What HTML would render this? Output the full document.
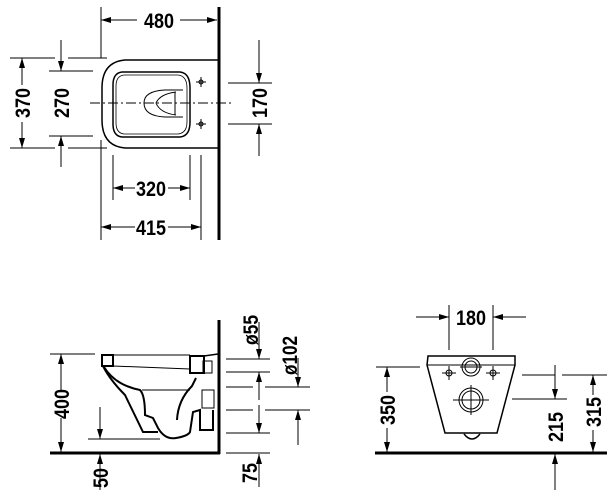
<!DOCTYPE html>
<html><head><style>
html,body{margin:0;padding:0;background:#fff;}
svg{display:block;}
text{font-family:"Liberation Sans",sans-serif;font-weight:bold;font-size:21px;fill:#000;}
</style></head><body>
<svg width="615" height="501" viewBox="0 0 615 501" xmlns="http://www.w3.org/2000/svg">
<defs>
<marker id="a" viewBox="0 0 10 6" refX="10" refY="3" markerWidth="10" markerHeight="6" orient="auto" markerUnits="userSpaceOnUse"><path d="M0,0 L10,3 L0,6z" fill="#000"/></marker>
</defs>
<g stroke="#000" stroke-width="1" fill="none">
<!-- TOP VIEW -->
<line x1="219" y1="7" x2="219" y2="240" stroke-width="3"/>
<line x1="101" y1="7" x2="101" y2="58"/>
<line x1="101" y1="140" x2="101" y2="240"/>
<line x1="137" y1="20" x2="101" y2="20" marker-end="url(#a)"/>
<line x1="180" y1="20" x2="217" y2="20" marker-end="url(#a)"/>
<path d="M218,60 L125,60 Q102,62 102,88 L102,120 Q102,146 125,148 L218,148" stroke-width="1.5"/>
<path d="M122,72 L180,72 Q190,73 190,88 L190,122 Q190,136 180,137 L122,137 Q113,136 113,124 L113,85 Q113,73 122,72z" stroke-width="1.5"/>
<path d="M124,75 L178,75 Q187,76 187,88 L187,122 Q187,133 178,134 L124,134 Q116,133 116,123 L116,86 Q116,76 124,75z" stroke-width="0.8"/>
<path d="M183,90 L165,90 Q144,91 144,103 Q144,116 165,117 L183,117"/>
<path d="M176,92 Q160,94 156,103 Q160,113 176,115"/>
<line x1="175" y1="92" x2="175" y2="115"/>
<line x1="90" y1="103" x2="231" y2="103" stroke-dasharray="10,3,2,3"/>
<circle cx="201" cy="82" r="2"/><line x1="196" y1="82" x2="206" y2="82"/><line x1="201" y1="77" x2="201" y2="87"/>
<circle cx="201" cy="124" r="2"/><line x1="196" y1="124" x2="206" y2="124"/><line x1="201" y1="119" x2="201" y2="129"/>
<line x1="10" y1="58" x2="55" y2="58"/><line x1="68" y1="58" x2="107" y2="58"/>
<line x1="10" y1="148" x2="55" y2="148"/><line x1="68" y1="148" x2="107" y2="148"/>
<line x1="22" y1="85" x2="22" y2="58" marker-end="url(#a)"/>
<line x1="22" y1="122" x2="22" y2="148" marker-end="url(#a)"/>
<line x1="49" y1="71" x2="93" y2="71"/><line x1="49" y1="136" x2="93" y2="136"/>
<line x1="61" y1="40" x2="61" y2="71" marker-end="url(#a)"/>
<line x1="61" y1="167" x2="61" y2="136" marker-end="url(#a)"/>
<line x1="228" y1="83" x2="272" y2="83"/><line x1="228" y1="124" x2="272" y2="124"/>
<line x1="259" y1="40" x2="259" y2="83" marker-end="url(#a)"/>
<line x1="259" y1="156" x2="259" y2="124" marker-end="url(#a)"/>
<line x1="113" y1="155" x2="113" y2="200"/><line x1="190" y1="155" x2="190" y2="200"/>
<line x1="135" y1="188" x2="113" y2="188" marker-end="url(#a)"/>
<line x1="168" y1="188" x2="190" y2="188" marker-end="url(#a)"/>
<line x1="201" y1="155" x2="201" y2="240"/>
<line x1="135" y1="227" x2="101" y2="227" marker-end="url(#a)"/>
<line x1="168" y1="227" x2="201" y2="227" marker-end="url(#a)"/>

<!-- SIDE VIEW -->
<line x1="219" y1="320" x2="219" y2="454" stroke-width="3"/>
<line x1="50" y1="453" x2="220" y2="453" stroke-width="3"/>
<line x1="50" y1="354" x2="95" y2="354"/>
<line x1="61" y1="390" x2="61" y2="354" marker-end="url(#a)"/>
<line x1="61" y1="418" x2="61" y2="452" marker-end="url(#a)"/>
<line x1="88" y1="439" x2="160" y2="439"/>
<line x1="100" y1="407" x2="100" y2="439" marker-end="url(#a)"/>
<line x1="100" y1="490" x2="100" y2="454" marker-end="url(#a)"/>
<line x1="113" y1="355" x2="190" y2="355"/>
<rect x="102" y="355" width="11" height="11" stroke-width="2"/>
<path d="M103,366 Q110,380 125,395 L143,432 L158,432" stroke-width="2"/>
<path d="M104,367 Q115,385 140,390 Q145,395 145,415 L153,418 L158,428 Q165,440 176,438 Q188,436 190,432 L193,412 L200,410 L200,430 L213,430 L213,410" stroke-width="2"/>
<path d="M177,420 Q178,400 192,386 L196,378" stroke-width="2"/>
<rect x="190" y="356" width="14" height="17" stroke-width="2"/>
<path d="M204,356 L218,354" stroke-width="1.5"/>
<line x1="113" y1="366" x2="190" y2="369"/>
<line x1="142" y1="390" x2="190" y2="390"/>
<rect x="203" y="361" width="9" height="12"/>
<rect x="202" y="390" width="12" height="18"/>
<!-- right dims -->
<line x1="226" y1="359" x2="270" y2="359"/><line x1="226" y1="372" x2="270" y2="372"/>
<line x1="226" y1="387" x2="253" y2="387"/><line x1="265" y1="387" x2="310" y2="387"/>
<line x1="226" y1="410" x2="253" y2="410"/><line x1="265" y1="410" x2="310" y2="410"/>
<line x1="226" y1="433" x2="270" y2="433"/><line x1="226" y1="453" x2="270" y2="453"/>
<line x1="259" y1="322" x2="259" y2="359" marker-end="url(#a)"/>
<line x1="259" y1="400" x2="259" y2="372" marker-end="url(#a)"/>
<line x1="259" y1="405" x2="259" y2="433" marker-end="url(#a)"/>
<line x1="298" y1="358" x2="298" y2="387" marker-end="url(#a)"/>
<line x1="298" y1="445" x2="298" y2="410" marker-end="url(#a)"/>
<line x1="259" y1="487" x2="259" y2="454" marker-end="url(#a)"/>

<!-- FRONT VIEW -->
<line x1="375" y1="453" x2="607" y2="453" stroke-width="3"/>
<line x1="449" y1="305" x2="449" y2="350"/><line x1="493" y1="305" x2="493" y2="350"/>
<line x1="416" y1="317" x2="449" y2="317" marker-end="url(#a)"/>
<line x1="526" y1="317" x2="493" y2="317" marker-end="url(#a)"/>
<path d="M428,356 L515,356 L515,365 L497,433 L445,433 L427,365z" stroke-width="1.5"/>
<line x1="427" y1="365" x2="515" y2="365"/>
<path d="M464,434 Q472,444 480,434" stroke-width="1.5"/>
<circle cx="471" cy="367" r="9"/><circle cx="471" cy="367" r="6"/>
<line x1="460" y1="367" x2="482" y2="367"/>
<circle cx="471" cy="400" r="12"/><circle cx="471" cy="400" r="9"/>
<line x1="453" y1="400" x2="489" y2="400"/><line x1="471" y1="385" x2="471" y2="415"/>
<circle cx="449" cy="373" r="3"/><line x1="442" y1="373" x2="456" y2="373"/><line x1="449" y1="366" x2="449" y2="380"/>
<circle cx="493" cy="373" r="3"/><line x1="486" y1="373" x2="500" y2="373"/><line x1="493" y1="366" x2="493" y2="380"/>
<line x1="376" y1="367" x2="420" y2="367"/>
<line x1="387" y1="392" x2="387" y2="367" marker-end="url(#a)"/>
<line x1="387" y1="428" x2="387" y2="452" marker-end="url(#a)"/>
<line x1="522" y1="375" x2="555" y2="375"/><line x1="512" y1="399" x2="567" y2="399"/>
<line x1="555" y1="365" x2="555" y2="399" marker-end="url(#a)"/>
<line x1="555" y1="490" x2="555" y2="454" marker-end="url(#a)"/>
<line x1="562" y1="375" x2="607" y2="375"/>
<line x1="593" y1="395" x2="593" y2="375" marker-end="url(#a)"/>
<line x1="593" y1="430" x2="593" y2="452" marker-end="url(#a)"/>
</g>
<g>
<text x="144" y="28" textLength="30" lengthAdjust="spacingAndGlyphs">480</text>
<text x="136" y="196" textLength="30" lengthAdjust="spacingAndGlyphs">320</text>
<text x="136" y="235" textLength="30" lengthAdjust="spacingAndGlyphs">415</text>
<text x="456" y="325" textLength="30" lengthAdjust="spacingAndGlyphs">180</text>
<text transform="translate(30,118) rotate(-90)" textLength="30" lengthAdjust="spacingAndGlyphs">370</text>
<text transform="translate(69,118) rotate(-90)" textLength="30" lengthAdjust="spacingAndGlyphs">270</text>
<text transform="translate(267,118) rotate(-90)" textLength="30" lengthAdjust="spacingAndGlyphs">170</text>
<text transform="translate(69,419) rotate(-90)" textLength="30" lengthAdjust="spacingAndGlyphs">400</text>
<text transform="translate(108,488) rotate(-90)" textLength="20" lengthAdjust="spacingAndGlyphs">50</text>
<text transform="translate(258,345) rotate(-90)" textLength="30" lengthAdjust="spacingAndGlyphs">ø55</text>
<text transform="translate(297,375) rotate(-90)" textLength="39" lengthAdjust="spacingAndGlyphs">ø102</text>
<text transform="translate(257,483) rotate(-90)" textLength="20" lengthAdjust="spacingAndGlyphs">75</text>
<text transform="translate(395,425) rotate(-90)" textLength="30" lengthAdjust="spacingAndGlyphs">350</text>
<text transform="translate(563,442) rotate(-90)" textLength="30" lengthAdjust="spacingAndGlyphs">215</text>
<text transform="translate(601,427) rotate(-90)" textLength="30" lengthAdjust="spacingAndGlyphs">315</text>
</g>
</svg>
</body></html>
